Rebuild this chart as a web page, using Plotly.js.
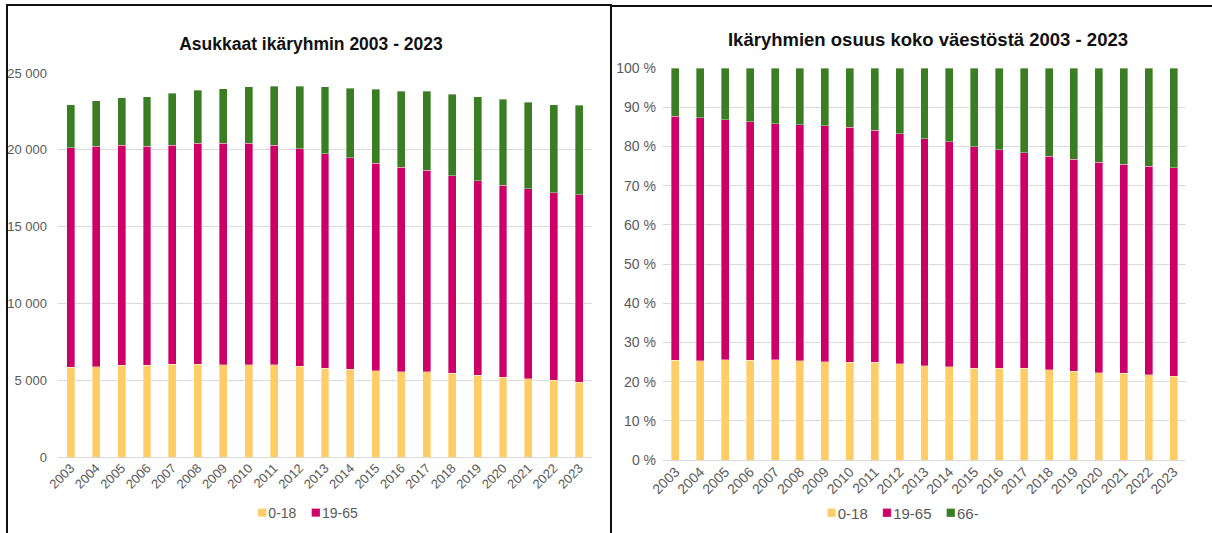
<!DOCTYPE html>
<html>
<head>
<meta charset="utf-8">
<script src="https://cdn.plot.ly/plotly-3.0.1.min.js"></script>
<style>
  html, body { margin:0; padding:0; background:#fff; width:1212px; height:533px; overflow:hidden; }
  #left { position:absolute; left:0; top:0; width:611px; height:533px; }
  #right { position:absolute; left:611px; top:0; width:601px; height:533px; }
  .ln { position:absolute; background:#111; }
</style>
</head>
<body>
<div id="left"></div>
<div id="right"></div>
<div class="ln" style="left:6px; top:4px; width:2px; height:529px;"></div>
<div class="ln" style="left:6px; top:4px; width:606px; height:2px;"></div>
<div class="ln" style="left:610px; top:4px; width:2px; height:529px;"></div>
<div class="ln" style="left:610px; top:5px; width:602px; height:2px;"></div>
<script>
const years = ['2003','2004','2005','2006','2007','2008','2009','2010','2011','2012','2013',
               '2014','2015','2016','2017','2018','2019','2020','2021','2022','2023'];
const age0_18  = [5840,5880,5970,5970,6050,6050,6010,6010,6010,5920,5790,5710,5600,5560,5560,5450,5320,5190,5100,4990,4880];
const age19_65 = [14280,14350,14320,14260,14260,14390,14430,14430,14300,14150,13960,13780,13540,13300,13100,12860,12650,12500,12350,12200,12200];
const age66    = [2820,2950,3100,3210,3370,3450,3520,3650,3820,4060,4340,4510,4800,4950,5140,5300,5470,5600,5660,5750,5820];
const groupNames = ['0-18','19-65','66-'];
const leftTickVals = [0,5000,10000,15000,20000,25000];
const leftTickText = ['0','5 000','10 000','15 000','20 000','25 000'];

const colors = ['#FFCC66','#CC0066','#3B7D23'];
const series = [age0_18, age19_65, age66];
const font = 'Liberation Sans, Arial, sans-serif';
const gray = '#595959';

function traces(legendFlags) {
  return series.map((s, i) => ({
    type:'bar', x:years, y:s, name:groupNames[i],
    marker:{color:colors[i], line:{color:'rgba(255,255,255,0.6)', width:0.6}},
    showlegend: legendFlags[i], hoverinfo:'x+y+name'
  }));
}

function axisX(fs) {
  return {type:'category', tickangle:-45, showgrid:false, zeroline:false, showline:false,
          ticks:'', tickfont:{family:font, size:fs, color:gray}, fixedrange:true};
}

function legendBase(fs, x) {
  return {orientation:'h', xanchor:'center', xref:'container', x:x, yref:'container', y:1-513/533, yanchor:'middle',
          font:{family:font, size:fs, color:gray}, itemwidth:30, traceorder:'normal'};
}

const leftLayout = {
  width:611, height:533, barmode:'stack', bargap:0.69,
  margin:{l:58, r:19, t:73, b:76},
  paper_bgcolor:'rgba(0,0,0,0)', plot_bgcolor:'rgba(0,0,0,0)',
  title:{text:'<b>Asukkaat ikäryhmin 2003 - 2023</b>', font:{family:font, size:17.5, color:'#111'},
         xref:'container', x:311/611, xanchor:'center', yref:'container', y:1-44/533, yanchor:'middle'},
  xaxis: axisX(13),
  yaxis:{range:[0,25000], tickvals:leftTickVals, ticktext:leftTickText, showgrid:true,
         gridcolor:'#D9D9D9', gridwidth:1, zeroline:true, zerolinecolor:'#D9D9D9', zerolinewidth:1,
         showline:false, ticks:'', ticklabelstandoff:10, tickfont:{family:font, size:13, color:gray}, fixedrange:true},
  legend: legendBase(14, 308/611),
  showlegend:true
};

const rightLayout = {
  width:601, height:533, barmode:'stack', barnorm:'percent', bargap:0.68,
  margin:{l:52, r:26, t:68, b:73},
  paper_bgcolor:'rgba(0,0,0,0)', plot_bgcolor:'rgba(0,0,0,0)',
  title:{text:'<b>Ikäryhmien osuus koko väestöstä 2003 - 2023</b>', font:{family:font, size:18.5, color:'#111'},
         xref:'container', x:(928-611)/601, xanchor:'center', yref:'container', y:1-40/533, yanchor:'middle'},
  xaxis: axisX(14),
  yaxis:{range:[0,100], dtick:10, tick0:0, ticksuffix:' %', showgrid:true,
         gridcolor:'#D9D9D9', gridwidth:1, zeroline:true, zerolinecolor:'#D9D9D9', zerolinewidth:1,
         showline:false, ticks:'', ticklabelstandoff:6, tickfont:{family:font, size:14, color:gray}, fixedrange:true},
  legend: legendBase(15, (903-611)/601),
  showlegend:true
};

// small swatches snug against labels, entries packed tightly (as in the reference)
function tidyLegend(id, centerPx, gap) {
  const host = document.getElementById(id);
  const hostLeft = host.getBoundingClientRect().left;
  const items = Array.from(host.querySelectorAll('.legend .traces'));
  const info = [];
  items.forEach(item => {
    const p = item.querySelector('.legendpoints path');
    const t = item.querySelector('text.legendtext');
    if (!p || !t) return;
    const orig = p.getAttribute('transform') || '';
    p.setAttribute('transform', orig + ' scale(0.7)');
    let pr = p.getBoundingClientRect();
    const tr = t.getBoundingClientRect();
    const dx = (tr.left - 2) - pr.right;
    p.setAttribute('transform', orig + ' translate(' + dx + ',0) scale(0.7)');
    pr = p.getBoundingClientRect();
    info.push({item:item, left:pr.left - hostLeft, right:tr.right - hostLeft});
  });
  const total = info.reduce((s, d) => s + (d.right - d.left), 0) + gap * (info.length - 1);
  let cursor = centerPx - total / 2;
  info.forEach(d => {
    const shift = cursor - d.left;
    const tf = d.item.getAttribute('transform') || 'translate(0,0)';
    const m = tf.match(/translate\(\s*([-\d.e]+)[ ,]+([-\d.e]+)\s*\)/);
    const x0 = m ? parseFloat(m[1]) : 0, y0 = m ? parseFloat(m[2]) : 0;
    d.item.setAttribute('transform', 'translate(' + (x0 + shift) + ',' + y0 + ')');
    cursor += (d.right - d.left) + gap;
  });
}

Plotly.newPlot('left', traces([true,true,false]), leftLayout, {staticPlot:true, displayModeBar:false})
  .then(() => tidyLegend('left', 308, 15));
Plotly.newPlot('right', traces([true,true,true]), rightLayout, {staticPlot:true, displayModeBar:false})
  .then(() => tidyLegend('right', 903 - 611, 15));
</script>
</body>
</html>
